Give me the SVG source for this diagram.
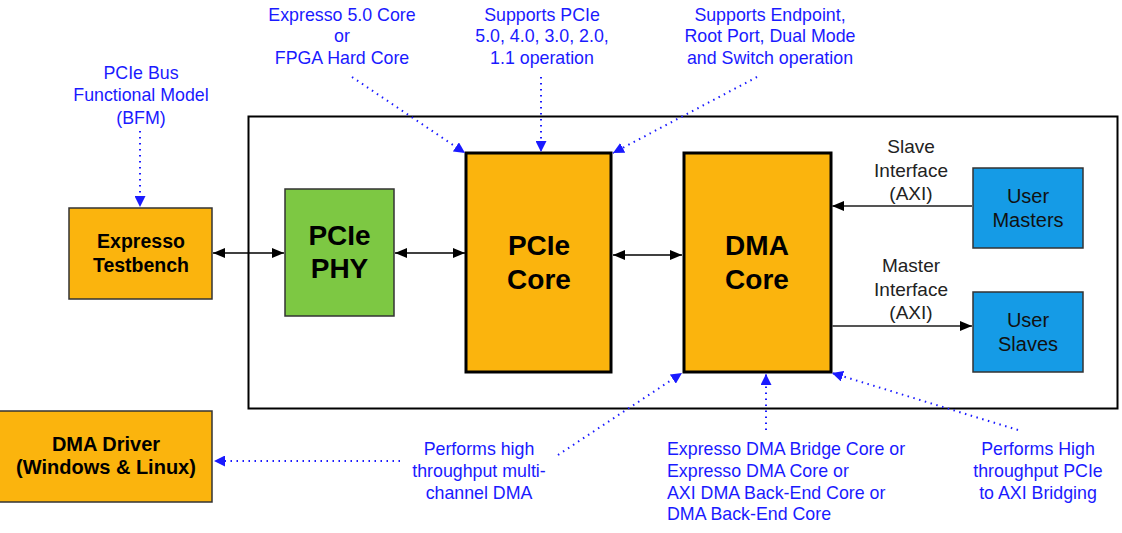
<svg xmlns="http://www.w3.org/2000/svg" width="1122" height="533" viewBox="0 0 1122 533">
<style>
.box{stroke:#333;stroke-width:1.5}
.core{fill:#FBB40D;stroke:#000;stroke-width:3}
.org{fill:#FBB40D}
.grn{fill:#7DC843}
.blu{fill:#159BE6}
.nl{font-family:"Liberation Sans",Arial,sans-serif;font-weight:bold;fill:#000;text-anchor:middle}
.ul{font-family:"Liberation Sans",Arial,sans-serif;font-size:20px;fill:#111;text-anchor:middle}
.if{font-family:"Liberation Sans",Arial,sans-serif;font-size:19px;fill:#222;text-anchor:middle}
.ann{font-family:"Liberation Sans",Arial,sans-serif;font-size:17.8px;fill:#1a1aff}
.mid{text-anchor:middle}
.sl{stroke:#000;stroke-width:1.5;fill:none}
.gl{stroke:#555;stroke-width:2;fill:none}
.dl{stroke:#1a1aff;stroke-width:2;stroke-dasharray:1.5 4.5;fill:none}
</style>
<defs>
<marker id="ah" viewBox="0 0 12 10" refX="12" refY="5" markerWidth="12" markerHeight="10" markerUnits="userSpaceOnUse" orient="auto-start-reverse"><path d="M0,0 L12,5 L0,10 z" fill="#000"/></marker>
<marker id="bh" viewBox="0 0 10 10" refX="10" refY="5" markerWidth="11" markerHeight="11" markerUnits="userSpaceOnUse" orient="auto"><path d="M0,0 L10,5 L0,10 z" fill="#1a1aff"/></marker>
</defs>
<rect x="0" y="0" width="1122" height="533" fill="#fff"/>
<g id="system-boundary"><rect x="248.5" y="116.5" width="869" height="292" fill="none" stroke="#000" stroke-width="2"/></g>

<g id="testbench"><rect class="box org" x="69" y="208" width="143" height="91"/>
<text class="nl" font-size="19.5" x="141" y="248">Expresso</text>
<text class="nl" font-size="19.5" x="141" y="272">Testbench</text></g>

<g id="pcie-phy"><rect class="box grn" x="285" y="189" width="109" height="127"/>
<text class="nl" font-size="28" x="339.5" y="245">PCIe</text>
<text class="nl" font-size="28" x="339.5" y="278">PHY</text></g>

<g id="pcie-core"><rect class="core" x="466" y="153" width="145" height="219"/>
<text class="nl" font-size="28" x="539" y="255">PCIe</text>
<text class="nl" font-size="28" x="539" y="289">Core</text></g>

<g id="dma-core"><rect class="core" x="684" y="153" width="147" height="219"/>
<text class="nl" font-size="28" x="757" y="255">DMA</text>
<text class="nl" font-size="28" x="757" y="289">Core</text></g>

<g id="user-masters"><rect class="box blu" x="973" y="168" width="110" height="80"/>
<text class="ul" x="1028" y="203">User</text>
<text class="ul" x="1028" y="227">Masters</text></g>

<g id="user-slaves"><rect class="box blu" x="973" y="292" width="110" height="80"/>
<text class="ul" x="1028" y="327">User</text>
<text class="ul" x="1028" y="351">Slaves</text></g>

<g id="dma-driver"><rect class="box org" x="-1" y="411" width="213" height="91"/>
<text class="nl" font-size="20" x="106" y="451">DMA Driver</text>
<text class="nl" font-size="20" x="106" y="474">(Windows &amp; Linux)</text></g>

<g id="connectors">
<line class="sl" x1="213" y1="253" x2="284" y2="253" marker-start="url(#ah)" marker-end="url(#ah)"/>
<line class="sl" x1="395" y1="253" x2="465" y2="253" marker-start="url(#ah)" marker-end="url(#ah)"/>
<line class="sl" x1="613" y1="255" x2="682" y2="255" marker-start="url(#ah)" marker-end="url(#ah)"/>
<line class="gl" x1="972" y1="206" x2="832" y2="206" marker-end="url(#ah)"/>
<line class="gl" x1="832" y1="326" x2="972" y2="326" marker-end="url(#ah)"/>
<line class="dl" x1="140" y1="131" x2="140" y2="207" marker-end="url(#bh)"/>
<line class="dl" x1="352" y1="77" x2="465" y2="153" marker-end="url(#bh)"/>
<line class="dl" x1="541" y1="77" x2="541" y2="152" marker-end="url(#bh)"/>
<line class="dl" x1="757" y1="77" x2="613" y2="153" marker-end="url(#bh)"/>
<line class="dl" x1="400" y1="461" x2="214" y2="461" marker-end="url(#bh)"/>
<line class="dl" x1="558" y1="455" x2="682" y2="373" marker-end="url(#bh)"/>
<line class="dl" x1="766" y1="430" x2="766" y2="374" marker-end="url(#bh)"/>
<line class="dl" x1="1018" y1="430" x2="832" y2="373" marker-end="url(#bh)"/>
</g>

<g id="labels">
<text class="if" x="911" y="153">Slave</text>
<text class="if" x="911" y="177">Interface</text>
<text class="if" x="911" y="200">(AXI)</text>
<text class="if" x="911" y="272">Master</text>
<text class="if" x="911" y="296">Interface</text>
<text class="if" x="911" y="319">(AXI)</text>

<text class="ann mid" x="141" y="79">PCIe Bus</text>
<text class="ann mid" x="141" y="101">Functional Model</text>
<text class="ann mid" x="141" y="124">(BFM)</text>

<text class="ann mid" x="342" y="21">Expresso 5.0 Core</text>
<text class="ann mid" x="342" y="42">or</text>
<text class="ann mid" x="342" y="64">FPGA Hard Core</text>

<text class="ann mid" x="542" y="21">Supports PCIe</text>
<text class="ann mid" x="542" y="42">5.0, 4.0, 3.0, 2.0,</text>
<text class="ann mid" x="542" y="64">1.1 operation</text>

<text class="ann mid" x="770" y="21">Supports Endpoint,</text>
<text class="ann mid" x="770" y="42">Root Port, Dual Mode</text>
<text class="ann mid" x="770" y="64">and Switch operation</text>

<text class="ann mid" x="479" y="455">Performs high</text>
<text class="ann mid" x="479" y="477">throughput multi-</text>
<text class="ann mid" x="479" y="499">channel DMA</text>

<text class="ann" x="667" y="455">Expresso DMA Bridge Core or</text>
<text class="ann" x="667" y="477">Expresso DMA Core or</text>
<text class="ann" x="667" y="499">AXI DMA Back-End Core or</text>
<text class="ann" x="667" y="520">DMA Back-End Core</text>

<text class="ann mid" x="1038" y="455">Performs High</text>
<text class="ann mid" x="1038" y="477">throughput PCIe</text>
<text class="ann mid" x="1038" y="499">to AXI Bridging</text>
</g>
</svg>
